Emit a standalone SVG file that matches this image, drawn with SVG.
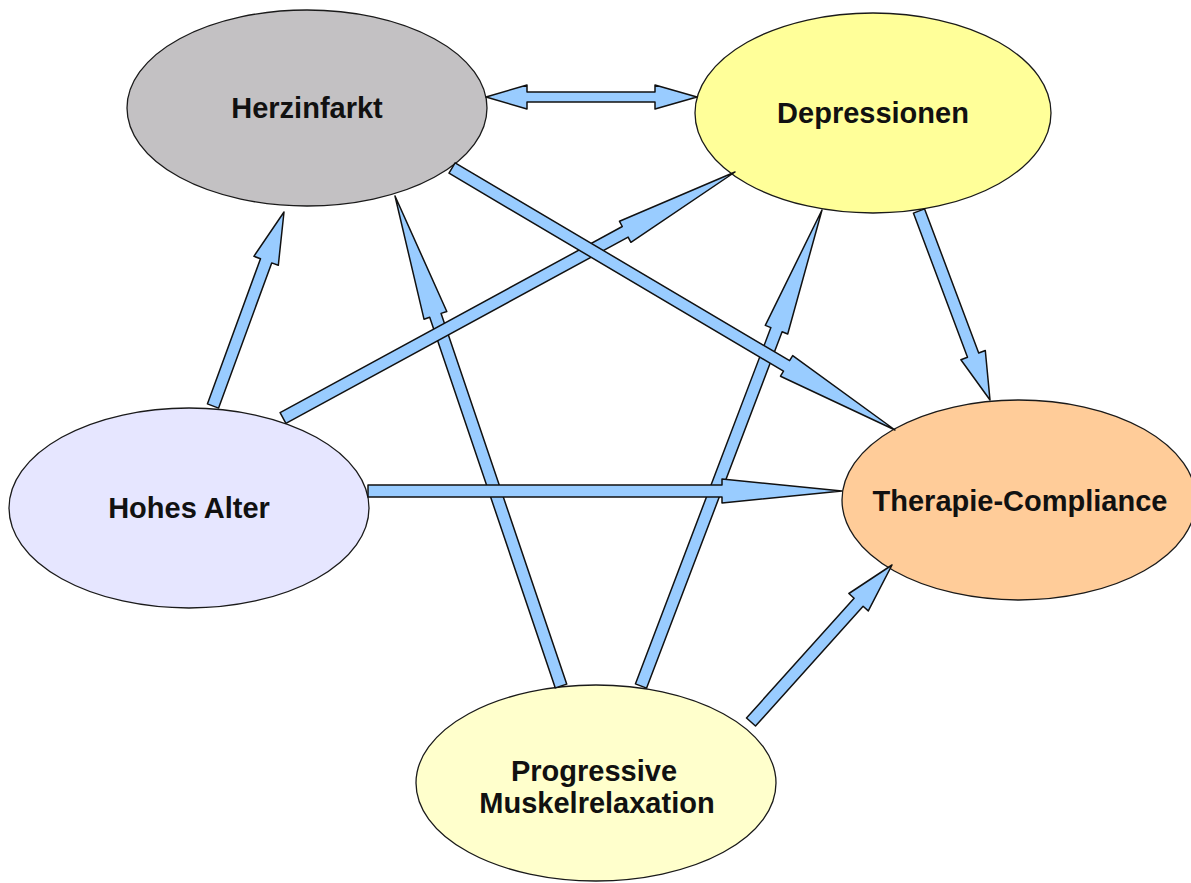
<svg xmlns="http://www.w3.org/2000/svg" width="1191" height="883" viewBox="0 0 1191 883">
<style>
.node{stroke:#1a1a1a;stroke-width:1.3}
.lbl{font-family:"Liberation Sans",Arial,sans-serif;font-weight:bold;font-size:29px;fill:#111;text-anchor:middle}
.arr{fill:#99CCFF;stroke:#111;stroke-width:1.5;stroke-linejoin:round}
</style>
<rect width="1191" height="883" fill="#fff"/>
<g id="n-herzinfarkt"><ellipse class="node" cx="307" cy="108" rx="180" ry="98" fill="#C3C1C3"/><text class="lbl" x="307" y="118">Herzinfarkt</text></g>
<g id="n-depressionen"><ellipse class="node" cx="873" cy="113" rx="178" ry="100" fill="#FFFF99"/><text class="lbl" x="873" y="123">Depressionen</text></g>
<g id="n-hohesalter"><ellipse class="node" cx="189" cy="508" rx="180" ry="100" fill="#E6E6FF"/><text class="lbl" x="189" y="518">Hohes Alter</text></g>
<g id="n-therapie"><ellipse class="node" cx="1019" cy="500" rx="177" ry="100" fill="#FFCC99"/><text class="lbl" x="1020" y="511">Therapie-Compliance</text></g>
<g id="n-pmr"><ellipse class="node" cx="596" cy="783" rx="180" ry="98" fill="#FFFFCC"/><text class="lbl" x="594" y="781">Progressive</text><text class="lbl" x="597" y="813">Muskelrelaxation</text></g>
<g id="connectors">
<polygon class="arr" points="566.7,684.1 441.1,313.4 446.8,311.5 395,196 424.0,319.2 429.7,317.2 555.3,687.9"/>
<polygon class="arr" points="646.6,688.1 782.1,331.8 787.7,334.0 822,210 765.3,325.4 770.9,327.6 635.4,683.9"/>
<polygon class="arr" points="285.9,423.3 628.1,237.1 630.9,242.3 735,172 619.5,221.3 622.3,226.5 280.1,412.7"/>
<polygon class="arr" points="449.0,173.2 783.5,371.1 780.5,376.2 895,430 792.7,355.6 789.6,360.7 455.1,162.8"/>
<polygon class="arr" points="368,485 722,485 722,479 842,491 722,503 722,497 368,497"/>
<polygon class="arr" points="218.6,408.1 271.7,262.9 278.3,265.3 284,212 253.9,256.3 260.5,258.7 207.4,403.9"/>
<polygon class="arr" points="913.4,213.1 967.5,357.2 960.9,359.7 990,400 985.3,350.5 978.7,353.0 924.6,208.9"/>
<polygon class="arr" points="755.5,726.0 863.1,606.2 868.3,610.9 892,565 848.9,593.5 854.1,598.2 746.5,718.0"/>
<polygon class="arr" points="486,97 527,85 527,92 655,92 655,85 697,97 655,109 655,102 527,102 527,109"/>
</g>
</svg>
